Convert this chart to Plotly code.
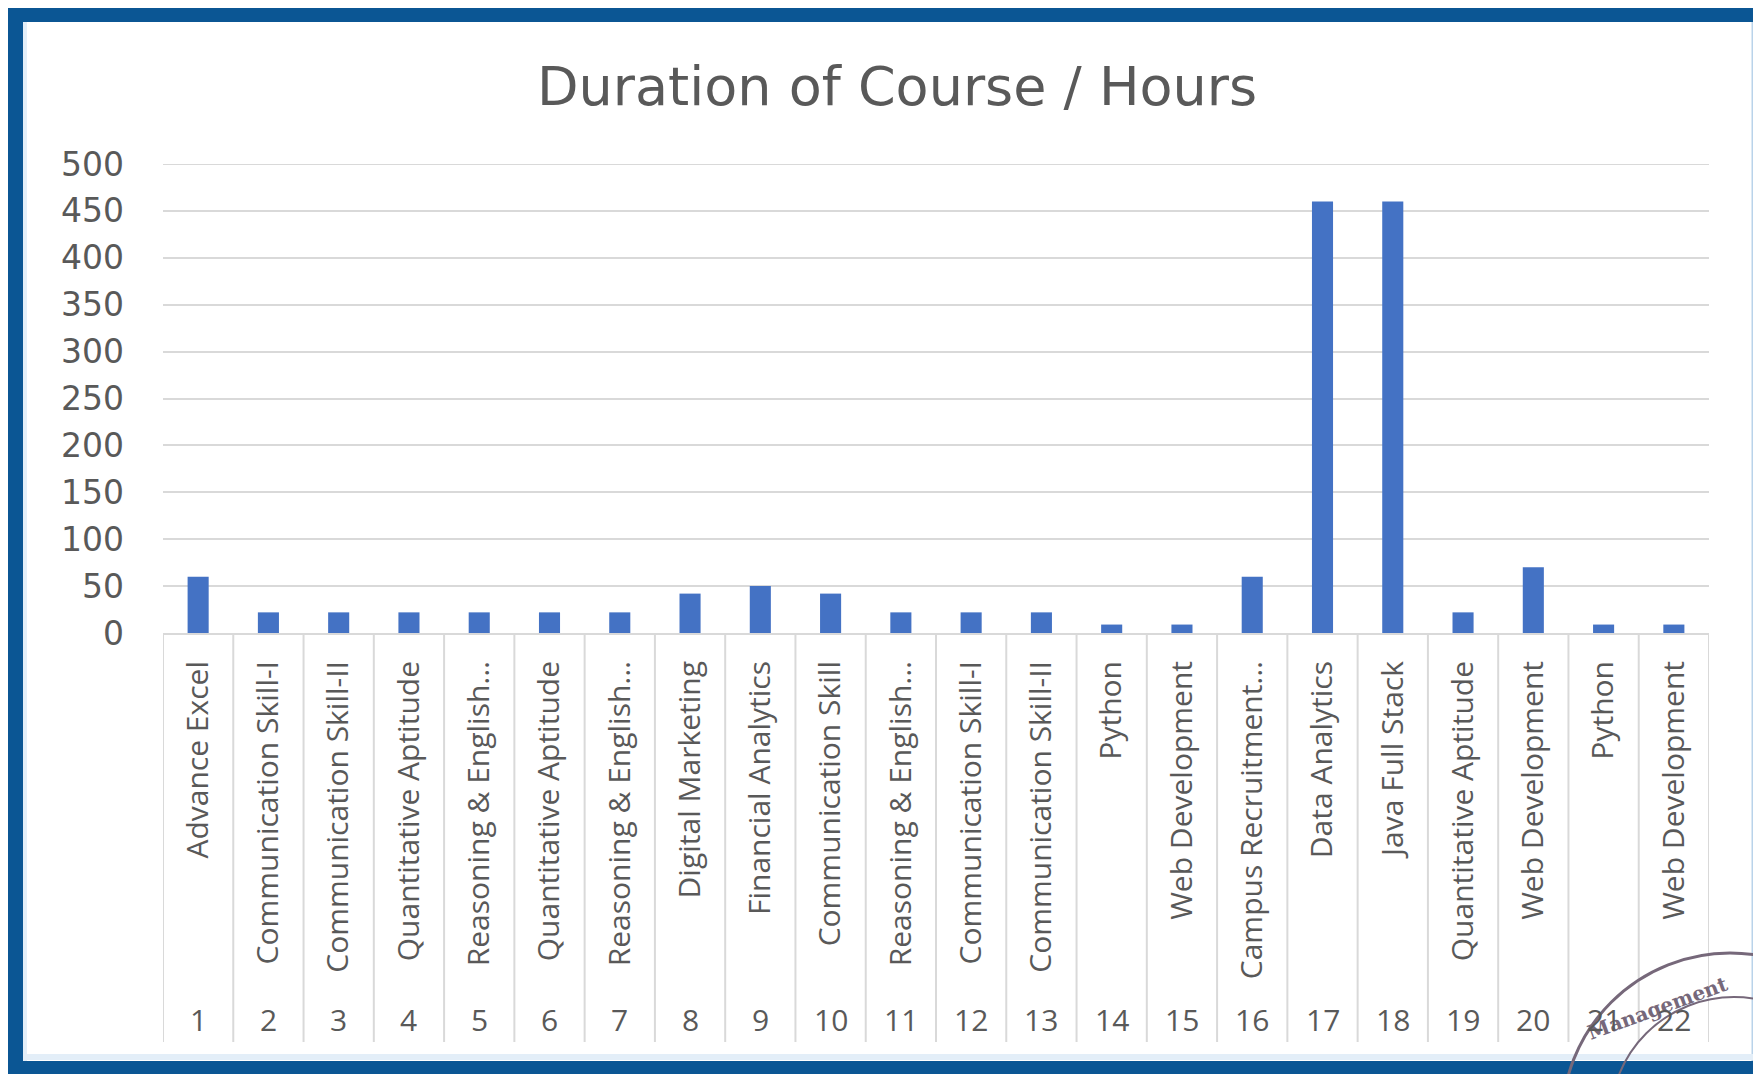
import plotly.graph_objects as go

# ---------------- data ----------------
course_numbers = [str(i) for i in range(1, 23)]
course_names = [
    "Advance Excel", "Communication Skill-I", "Communication Skill-II",
    "Quantitative Aptitude", "Reasoning & English...", "Quantitative Aptitude",
    "Reasoning & English...", "Digital Marketing", "Financial Analytics",
    "Communication Skill", "Reasoning & English...", "Communication Skill-I",
    "Communication Skill-II", "Python", "Web Development",
    "Campus Recruitment...", "Data Analytics", "Java Full Stack",
    "Quantitative Aptitude", "Web Development", "Python", "Web Development",
]
duration_hours = [60, 22, 22, 22, 22, 22, 22, 42, 50, 42, 22, 22, 22,
                  9, 9, 60, 460, 460, 22, 70, 9, 9]
y_ticks = [0, 50, 100, 150, 200, 250, 300, 350, 400, 450, 500]
title_text = "Duration of Course / Hours"

# ---------------- layout geometry ----------------
# page pixel coordinates; the figure sits at an 8px body offset
OFF = 8
W, H = 1761 - OFF, 1074 - OFF
L, R, T, B = 163, 1709, 164, 633   # plot area edges (page pixels)
PW, PH = R - L, B - T


def px_x(px):
    return (px - L) / PW


def px_y(py):
    return (B - py) / PH


TEXT = "#595959"
GRID = "#d9d9d9"
BAR = "#4472C4"
FRAME = "#0b5694"
STAMP = "#76687a"

positions = list(range(1, len(course_names) + 1))

fig = go.Figure()
fig.add_trace(go.Bar(
    x=positions, y=duration_hours, marker_color=BAR,
    marker_line_width=0, width=0.3, hoverinfo="skip",
))

shapes = []
# top gridline (at the range edge, which plotly leaves out)
shapes.append(dict(type="line", xref="paper", yref="y", x0=0, x1=1,
                   y0=y_ticks[-1], y1=y_ticks[-1],
                   line=dict(color=GRID, width=2), layer="below"))
# category dividers below the axis
for k in range(len(positions) + 1):
    shapes.append(dict(type="line", xref="x", yref="paper",
                       x0=0.5 + k, x1=0.5 + k, y0=0, y1=px_y(1042),
                       line=dict(color=GRID, width=2), layer="below"))

# picture frame
shapes += [
    dict(type="rect", xref="paper", yref="paper",
         x0=px_x(7), x1=px_x(1761), y0=px_y(22), y1=px_y(5),
         fillcolor=FRAME, line_width=0, layer="above"),
    dict(type="rect", xref="paper", yref="paper",
         x0=px_x(7), x1=px_x(23), y0=px_y(1074), y1=px_y(5),
         fillcolor=FRAME, line_width=0, layer="above"),
    dict(type="rect", xref="paper", yref="paper",
         x0=px_x(7), x1=px_x(1761), y0=px_y(1074), y1=px_y(1061),
         fillcolor=FRAME, line_width=0, layer="above"),
    dict(type="line", xref="paper", yref="paper",
         x0=px_x(1753), x1=px_x(1753), y0=px_y(1061), y1=px_y(22),
         line=dict(color="#b9d3ea", width=3), layer="above"),
    dict(type="line", xref="paper", yref="paper",
         x0=px_x(23), x1=px_x(1753), y0=px_y(1057), y1=px_y(1057),
         line=dict(color="#e3eef8", width=6), layer="above"),
    dict(type="line", xref="paper", yref="paper",
         x0=px_x(25), x1=px_x(25), y0=px_y(1061), y1=px_y(22),
         line=dict(color="#e3eef8", width=4), layer="above"),
]

# stamp remnants (bottom right)
for (cx, cy, r, w) in [(1730, 1121, 168, 3), (1734, 1121, 124, 2)]:
    shapes.append(dict(type="circle", xref="paper", yref="paper",
                       x0=px_x(cx - r), x1=px_x(cx + r),
                       y0=px_y(cy + r), y1=px_y(cy - r),
                       line=dict(color=STAMP, width=w), layer="above"))

annotations = [
    dict(text=title_text, x=px_x(897), y=px_y(86), xref="paper", yref="paper",
         showarrow=False, xanchor="center", yanchor="middle",
         font=dict(family="DejaVu Sans", size=54, color=TEXT)),
    dict(text="<b>Management</b>", x=px_x(1658), y=px_y(1008), xref="paper",
         yref="paper", showarrow=False, textangle=-20,
         xanchor="center", yanchor="middle",
         font=dict(family="DejaVu Serif", size=20, color=STAMP)),
]
for p, num in zip(positions, course_numbers):
    annotations.append(dict(text=num, x=p, y=px_y(1019), xref="x", yref="paper",
                            showarrow=False, xanchor="center", yanchor="middle",
                            font=dict(family="Open Sans", size=30, color=TEXT)))

fig.update_layout(
    width=W, height=H,
    margin=dict(l=L - OFF, r=W - (R - OFF), t=T - OFF, b=H - (B - OFF), pad=0),
    paper_bgcolor="white", plot_bgcolor="white",
    showlegend=False, bargap=0.7,
    shapes=shapes, annotations=annotations,
)
fig.update_xaxes(
    range=[0.5, len(positions) + 0.5], tickmode="array",
    tickvals=positions, ticktext=course_names, tickangle=-90,
    tickfont=dict(family="Open Sans", size=30, color=TEXT),
    showgrid=False, zeroline=False, showline=True, linecolor=GRID, linewidth=2,
    ticks="", ticklabelstandoff=14, fixedrange=True,
)
fig.update_yaxes(
    range=[0, 500], tickmode="array", tickvals=y_ticks,
    tickfont=dict(family="DejaVu Sans", size=33, color=TEXT),
    showgrid=True, gridcolor=GRID, gridwidth=2, zeroline=False,
    showline=False, ticks="", ticklabelstandoff=38, fixedrange=True,
)

fig.write_html("out.html")
